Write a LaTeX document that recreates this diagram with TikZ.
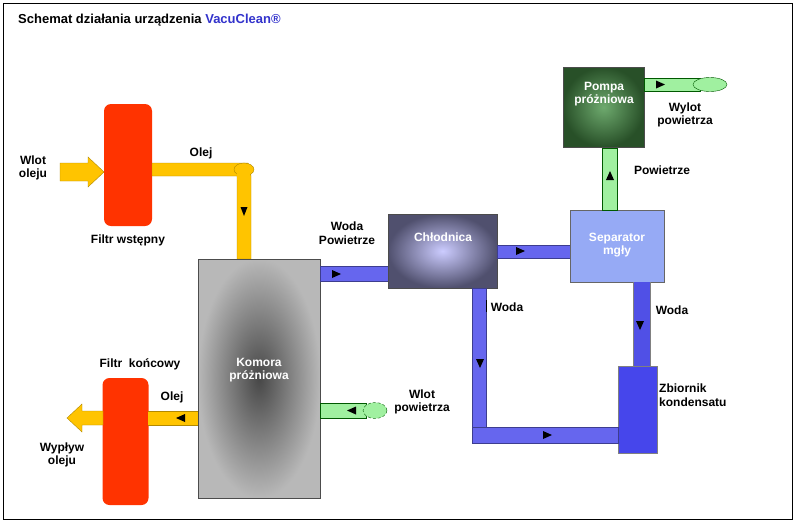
\documentclass[tikz,border=0pt]{standalone}
\usepackage{fontspec}
\setmainfont{Liberation Sans}
\definecolor{oilc}{RGB}{255,196,0}
\definecolor{pipeb}{RGB}{102,102,238}
\definecolor{pipeg}{RGB}{160,240,160}
\definecolor{filt}{RGB}{255,51,0}
\definecolor{titleb}{RGB}{51,51,204}
\definecolor{coolo}{RGB}{80,80,110}
\definecolor{sepc}{RGB}{150,170,245}
\definecolor{pumpi}{RGB}{110,170,110}
\definecolor{pumpo}{RGB}{40,80,40}
\definecolor{drainc}{RGB}{80,80,230}
\definecolor{tankc}{RGB}{70,70,235}
\begin{document}
\begin{tikzpicture}[x=1pt,y=-1pt,
  lab/.style={font=\bfseries\fontsize{12}{13.5}\selectfont,align=center,inner sep=0pt},
  wlab/.style={lab,text=white},
  oil/.style={fill=oilc,draw=oilc!70!black,line width=0.4pt},
  blu/.style={fill=pipeb,draw=pipeb!60!black,line width=0.4pt},
  grn/.style={fill=pipeg,draw=green!35!black,line width=0.4pt},
  filter/.style={fill=filt,rounded corners=7pt,inner sep=0pt},
  mk/.style={fill=black}]
\useasboundingbox (0,0) rectangle (795,523);
\fill[white] (0,0) rectangle (795,523);
\draw[line width=1pt] (3,3) rectangle (792,519);
\node[lab,anchor=west,font=\bfseries\fontsize{13}{15}\selectfont] (title) at (18,20) {Schemat działania urządzenia \textcolor{titleb}{VacuClean®}};
% oil inlet
\draw[oil] (60,163) -- (88,163) -- (88,157) -- (104,172) -- (88,187) -- (88,181) -- (60,181) -- cycle;
\node[lab] (wlot) at (33,168) {Wlot\\oleju};
% filter 1
\node[filter,minimum width=48pt,minimum height=122pt] (f1) at (128,165) {};
\node[lab] (f1l) at (128,240) {Filtr wstępny};
% oil pipe
\draw[oil] (152,163) -- (248,163) -- (251,176) -- (251,259) -- (237,259) -- (237,176) -- (152,176) -- cycle;
\draw[oil] (244,169.5) ellipse (10 and 6.5);
\fill[oilc] (237,170) rectangle (250,180);
\node[lab] (olej1) at (201,153) {Olej};
\fill[mk] (240.5,207) -- (247.5,207) -- (244,216) -- cycle;
% chamber
\shade[inner color=black!72,outer color=black!28] (198,259) rectangle (320,498);
\draw[black!70,line width=0.6pt] (198,259) rectangle (320,498);
\node[wlab] (kom) at (259,370) {Komora\\próżniowa};
% filter 2
\node[filter,minimum width=46pt,minimum height=127pt] (f2) at (125.5,441.5) {};
\node[lab] (f2l) at (140,364) {Filtr\ \ końcowy};
\fill[oilc] (148,411) rectangle (198,425);
\draw[oilc!70!black,line width=0.4pt] (148,411) -- (198,411) (148,425) -- (198,425);
\fill[mk] (185,414) -- (185,422) -- (176,418) -- cycle;
\node[lab] (olej2) at (172,397) {Olej};
\draw[oil] (103,411) -- (82,411) -- (82,404) -- (67,418) -- (82,432) -- (82,425) -- (103,425) -- cycle;
\node[lab] (wyp) at (62,455) {Wypływ\\oleju};
% pipe chamber->cooler
\draw[blu] (320,266) rectangle (388,281);
\fill[mk] (332,270) -- (332,278) -- (341,274) -- cycle;
\node[lab] (wp) at (347,233) {Woda\\Powietrze};
% cooler
\shade[inner color=blue!20!white,outer color=coolo] (388,214) rectangle (497,288);
\draw[black!70] (388,214) rectangle (497,288);
\node[wlab] (chl) at (443,237) {Chłodnica};
% cooler->separator
\draw[blu] (497,245) rectangle (570,258);
\fill[mk] (516,247) -- (516,255) -- (525,251) -- cycle;
% separator
\fill[sepc] (570,210) rectangle (664,282);
\draw[black!60] (570,210) rectangle (664,282);
\node[wlab] (sep) at (617,245) {Separator\\mgły};
% separator -> pump
\draw[grn] (602,148) rectangle (617,210);
\fill[mk] (606,180) -- (614,180) -- (610,171) -- cycle;
\node[lab] (pow) at (662,170) {Powietrze};
% pump
\shade[inner color=pumpi,outer color=pumpo] (563,67) rectangle (644,147);
\draw[black!70] (563,67) rectangle (644,147);
\node[wlab] (pump) at (604,94) {Pompa\\próżniowa};
\draw[grn] (644,78) rectangle (700,91);
\draw[grn] (710,84.5) ellipse (17 and 7);
\fill[mk] (656,80.5) -- (656,88.5) -- (665,84.5) -- cycle;
\node[lab] (wylot) at (685,115) {Wylot\\powietrza};
% separator -> tank
\fill[drainc] (633,282) rectangle (650,366);
\draw[black!50,line width=0.3pt] (633,282) -- (633,366) (650,282) -- (650,366);
\fill[mk] (636,321) -- (644,321) -- (640,330) -- cycle;
\node[lab] (woda2) at (672,310) {Woda};
% tank
\fill[tankc] (618,366) rectangle (657,453);
\draw[black!50,line width=0.3pt] (618,366) rectangle (657,453);
\node[lab,align=left,anchor=west] (zb) at (659,395) {Zbiornik\\kondensatu};
% cooler down pipe
\draw[blu] (472,288) -- (486,288) -- (486,427) -- (472,427) -- cycle;
\fill[mk] (476,359) -- (484,359) -- (480,368) -- cycle;
\node[lab] (woda1) at (507,307) {Woda};
\draw[black] (486.5,300) -- (486.5,312);
% bottom pipe
\draw[blu] (472,427) rectangle (618,443);
\fill[mk] (543,431) -- (543,439) -- (552,435) -- cycle;
% air inlet
\draw[grn] (320,403) rectangle (366,418);
\draw[grn,densely dashed] (375,410.5) ellipse (12 and 8);
\fill[mk] (356,406.5) -- (356,414.5) -- (347,410.5) -- cycle;
\node[lab] (wlotp) at (422,402) {Wlot\\powietrza};
\end{tikzpicture}
\end{document}
